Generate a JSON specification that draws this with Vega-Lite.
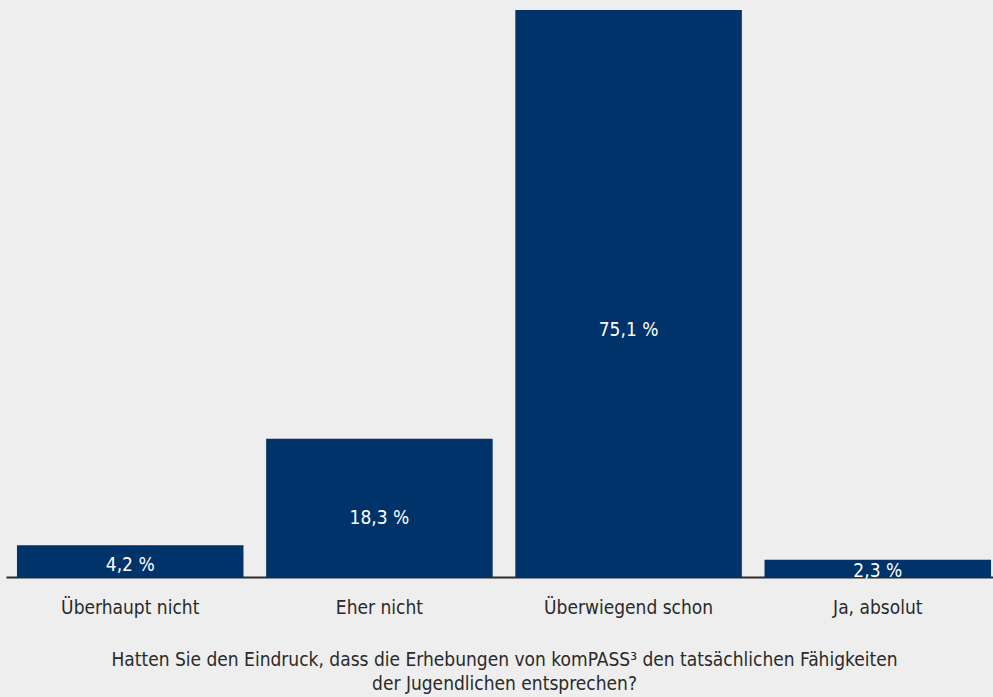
{
  "$schema": "https://vega.github.io/schema/vega-lite/v6.json",
  "width": 996,
  "height": 567,
  "autosize": {"type": "none"},
  "padding": {"left": 6, "top": 10, "right": 0, "bottom": 120},
  "background": "#eeeeee",
  "config": {
    "view": {"stroke": null},
    "font": "'Liberation Sans Narrow', 'DejaVu Sans Condensed', sans-serif"
  },
  "data": {
    "values": [
      {"antwort": "Überhaupt nicht", "wert": 4.2, "label": "4,2 %"},
      {"antwort": "Eher nicht", "wert": 18.3, "label": "18,3 %"},
      {"antwort": "Überwiegend schon", "wert": 75.1, "label": "75,1 %"},
      {"antwort": "Ja, absolut", "wert": 2.3, "label": "2,3 %"}
    ]
  },
  "encoding": {
    "x": {
      "field": "antwort",
      "type": "nominal",
      "sort": null,
      "scale": {"paddingInner": 0.091, "paddingOuter": 0.044},
      "axis": {
        "title": ["Hatten Sie den Eindruck, dass die Erhebungen von komPASS³ den tatsächlichen Fähigkeiten", "der Jugendlichen entsprechen?"],
        "titleFontSize": 19,
        "titleFontWeight": "normal",
        "titleColor": "#2a2a2a",
        "titleLineHeight": 24,
        "titlePadding": 33,
        "labelAngle": 0,
        "labelFontSize": 19,
        "labelColor": "#2a2a2a",
        "labelPadding": 21,
        "ticks": false,
        "domainColor": "#2a2a2a",
        "domainWidth": 2
      }
    }
  },
  "layer": [
    {
      "mark": {"type": "bar", "color": "#003369"},
      "encoding": {
        "y": {
          "field": "wert",
          "type": "quantitative",
          "scale": {"domain": [0, 75.1], "nice": false},
          "axis": null
        }
      }
    },
    {
      "transform": [{"calculate": "datum.wert * 0.44", "as": "labelpos"}],
      "mark": {"type": "text", "color": "white", "fontSize": 19, "baseline": "middle", "dy": 2},
      "encoding": {
        "y": {"field": "labelpos", "type": "quantitative"},
        "text": {"field": "label"}
      }
    }
  ]
}
